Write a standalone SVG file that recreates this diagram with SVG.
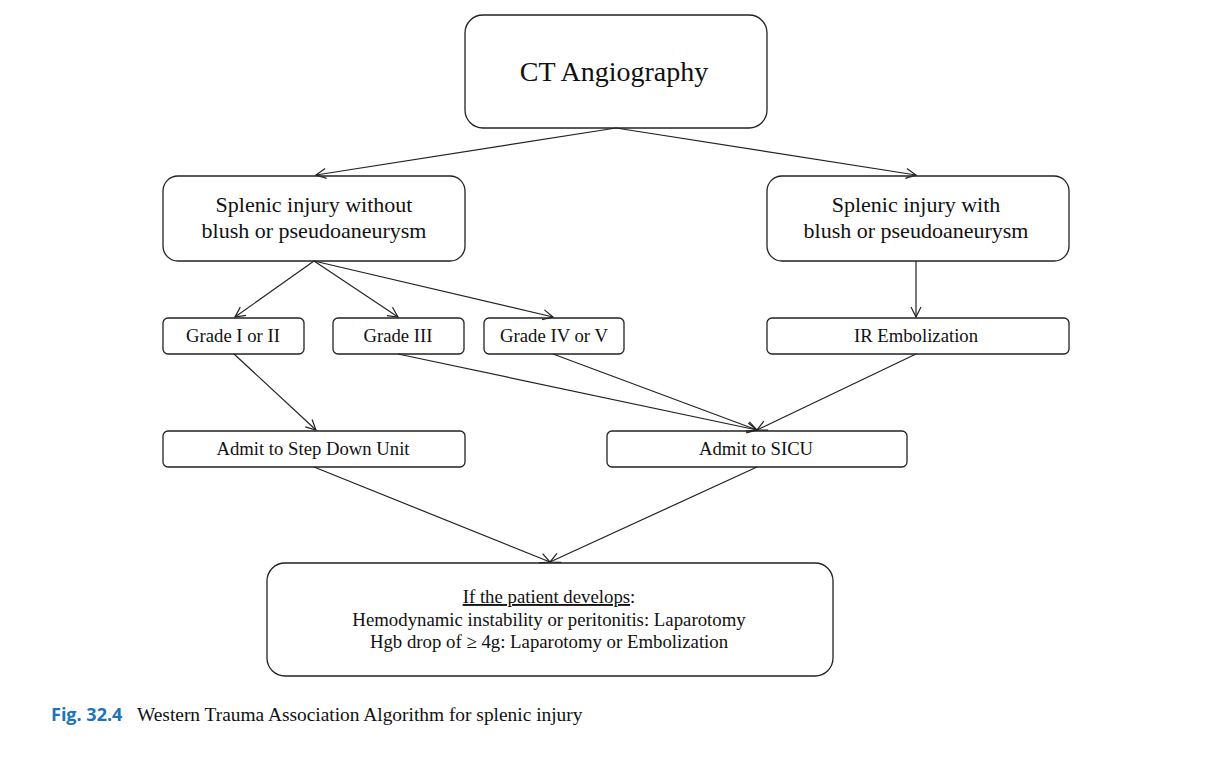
<svg xmlns="http://www.w3.org/2000/svg" width="1213" height="760" viewBox="0 0 1213 760">
<style>
.box{fill:#fff;stroke:#222;stroke-width:1.3}
.t{font-family:"Liberation Serif","Times New Roman",serif;fill:#111;text-anchor:middle}
.conn line{stroke:#222;stroke-width:1.2;marker-end:url(#arr)}
</style>
<defs>
<marker id="arr" viewBox="0 0 12 12" refX="11" refY="6" markerWidth="12" markerHeight="12" markerUnits="userSpaceOnUse" orient="auto">
<path d="M1,1 L11,6 L1,11" fill="none" stroke="#222" stroke-width="1.2"/>
</marker>
</defs>
<rect width="1213" height="760" fill="#fff"/>
<g id="ct"><rect class="box" x="465" y="15" width="302" height="113" rx="18"/><text class="t" x="614" y="81" font-size="28">CT Angiography</text></g>
<g id="without"><rect class="box" x="163" y="176" width="302" height="85" rx="15"/><text class="t" x="314" y="212" font-size="22">Splenic injury without</text><text class="t" x="314" y="238" font-size="22">blush or pseudoaneurysm</text></g>
<g id="with"><rect class="box" x="767" y="176" width="302" height="85" rx="15"/><text class="t" x="916" y="212" font-size="22">Splenic injury with</text><text class="t" x="916" y="238" font-size="22">blush or pseudoaneurysm</text></g>
<g id="g12"><rect class="box" x="163" y="318" width="141" height="36" rx="5"/><text class="t" x="233" y="342" font-size="18.7">Grade I or II</text></g>
<g id="g3"><rect class="box" x="333" y="318" width="131" height="36" rx="5"/><text class="t" x="398" y="342" font-size="18.7">Grade III</text></g>
<g id="g45"><rect class="box" x="484" y="318" width="140" height="36" rx="5"/><text class="t" x="554" y="342" font-size="18.7">Grade IV or V</text></g>
<g id="ir"><rect class="box" x="767" y="318" width="302" height="36" rx="5"/><text class="t" x="916" y="342" font-size="18.7">IR Embolization</text></g>
<g id="stepdown"><rect class="box" x="163" y="431" width="302" height="36" rx="5"/><text class="t" x="313" y="455" font-size="18.7">Admit to Step Down Unit</text></g>
<g id="sicu"><rect class="box" x="607" y="431" width="300" height="36" rx="5"/><text class="t" x="756" y="455" font-size="18.7">Admit to SICU</text></g>
<g id="develops"><rect class="box" x="267" y="563" width="566" height="113" rx="18"/>
<text class="t" x="549" y="603" font-size="18.8"><tspan text-decoration="underline">If the patient develops</tspan>:</text>
<text class="t" x="549" y="626" font-size="18.8">Hemodynamic instability or peritonitis: Laparotomy</text>
<text class="t" x="549" y="648" font-size="18.8">Hgb drop of ≥ 4g: Laparotomy or Embolization</text></g>
<g id="connectors" class="conn">
<line x1="616" y1="128" x2="316" y2="175"/>
<line x1="616" y1="128" x2="916" y2="175"/>
<line x1="314" y1="261" x2="235" y2="317"/>
<line x1="314" y1="261" x2="398" y2="317"/>
<line x1="314" y1="261" x2="553" y2="317"/>
<line x1="916" y1="261" x2="916" y2="317"/>
<line x1="234" y1="354" x2="316" y2="430"/>
<line x1="398" y1="354" x2="757" y2="430"/>
<line x1="553" y1="354" x2="757" y2="430"/>
<line x1="916" y1="354" x2="757" y2="430"/>
<line x1="314" y1="467" x2="550" y2="562"/>
<line x1="757" y1="467" x2="550" y2="562"/>
</g>
<g id="caption">
<text x="51" y="721" font-family="'Open Sans','Liberation Sans',sans-serif" font-weight="bold" font-size="18" fill="#1a74bb">Fig. 32.4</text>
<text x="137" y="721" font-family="'Liberation Serif','Times New Roman',serif" font-size="19.4" fill="#111">Western Trauma Association Algorithm for splenic injury</text>
</g>
</svg>
